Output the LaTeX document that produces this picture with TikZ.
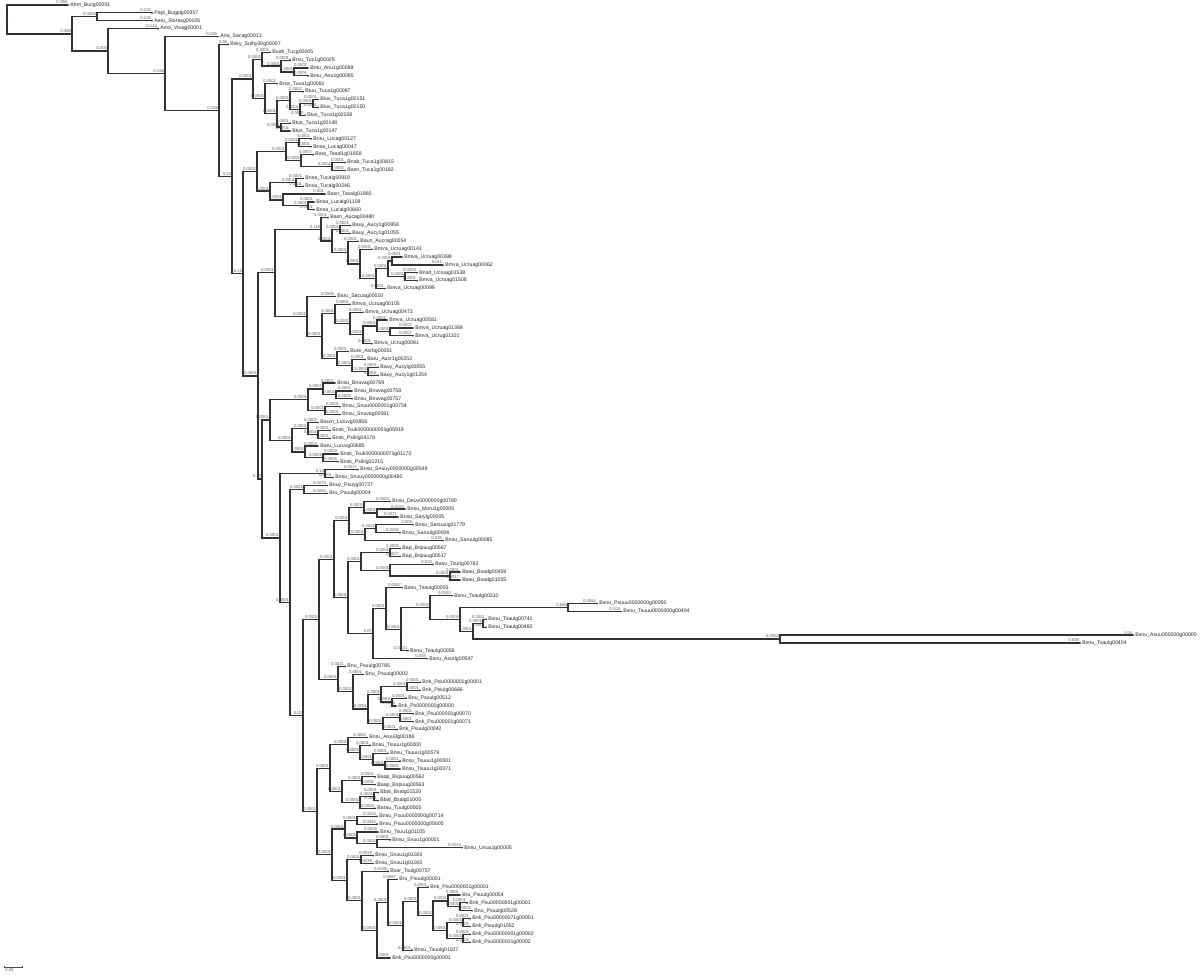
\documentclass[tikz,border=0pt]{standalone}
\usepackage{fontspec}
\setmainfont{Liberation Sans}
\usetikzlibrary{calc}

\tikzset{
  branch/.style={draw=black!80, line width=0.6pt},
  leaflab/.style={anchor=west, inner sep=0pt, font=\fontsize{2.6}{3}\selectfont, text=black!85},
  vallab/.style={anchor=south east, inner sep=0.3pt, font=\fontsize{2.1}{2.4}\selectfont, text=black!65},
  tipdot/.style={circle, fill=blue!70!black, inner sep=0pt, minimum size=0.9pt},
  nodedot/.style={circle, fill=red!75!black, inner sep=0pt, minimum size=0.9pt},
}

% leaf: name, row, tip x, branch value, label
\newcommand{\tleaf}[5]{%
  \coordinate (#1) at (#3,{5+(#2-1)*7.876});
  \node[tipdot] (#1d) at (#1) {};
  \node[leaflab] (#1t) at ([xshift=1pt]#1) {#5};
  \node[vallab] (#1v) at (#1) {#4};
}
% clade: name, x, upper child, lower child, branch value
\newcommand{\clade}[5]{%
  \path let \p1=($(#3)!0.5!(#4)$) in coordinate (#1) at ({#2*0.5pt},\y1);
  \draw[branch] (#3) -| (#1) |- (#4);
  \node[nodedot] (#1d) at ([yshift=-1.2pt]#1) {};
  \node[vallab] (#1v) at (#1) {#5};
}

\begin{document}
\begin{tikzpicture}[x=0.5pt, y=-0.5pt]
\useasboundingbox (0,0) rectangle (1200,976);

% Leaves
\tleaf{l1}{1}{68}{0.388}{Ahm\_Bucg00001}
\tleaf{l2}{2}{152}{0.132}{Papl\_Bugplg00357}
\tleaf{l3}{3}{152}{0.136}{Aeru\_Sloraxg00105}
\tleaf{l4}{4}{158}{0.144}{Amo\_Vtuqg00001}
\tleaf{l5}{5}{218}{0.156}{Ana\_Sacag00013}
\tleaf{l6}{6}{228}{0.98}{Bsky\_Sulhy00g00007}
\tleaf{l7}{7}{270}{0.0001}{Buah\_Tucg00005}
\tleaf{l8}{8}{290}{0.0001}{Brsu\_Tuc1g00025}
\tleaf{l9}{9}{308}{0.0002}{Bntu\_Anu1g00088}
\tleaf{l10}{10}{308}{0.0001}{Bnru\_Anu1g00095}
\tleaf{l11}{11}{277}{0.0001}{Brsa\_Tuca1g00081}
\tleaf{l12}{12}{303}{0.0002}{Btuu\_Tuca1g00087}
\tleaf{l13}{13}{318}{0.0001}{Btus\_Tuca1g00151}
\tleaf{l14}{14}{318}{0.0001}{Btus\_Tuca1g00150}
\tleaf{l15}{15}{305}{0.0001}{Btus\_Tuca1g00208}
\tleaf{l16}{16}{290}{0.0001}{Btus\_Tuca1g00148}
\tleaf{l17}{17}{290}{0.0001}{Btus\_Tuca1g00147}
\tleaf{l18}{18}{311}{0.0001}{Bnru\_Lucag00127}
\tleaf{l19}{19}{311}{0.0001}{Bnsa\_Lucag00047}
\tleaf{l20}{20}{313}{0.0007}{Bara\_Tasal1g01958}
\tleaf{l21}{21}{345}{0.0001}{Bnab\_Tuca1g00815}
\tleaf{l22}{22}{345}{0.0002}{Basn\_Tuca1g00182}
\tleaf{l23}{23}{303}{0.0001}{Bnsa\_Tucalg00918}
\tleaf{l24}{24}{303}{0.0001}{Bnsa\_Tucalg00246}
\tleaf{l25}{25}{325}{0.001}{Basn\_Tasalg01960}
\tleaf{l26}{26}{314}{0.0001}{Bnsa\_Lucalg01109}
\tleaf{l27}{27}{314}{0.0001}{Bnsa\_Lucalg00660}
\tleaf{l28}{28}{328}{0.0001}{Basn\_Aucag00480}
\tleaf{l29}{29}{350}{0.0001}{Bauy\_Aucy1g00958}
\tleaf{l30}{30}{350}{0.0001}{Bauy\_Aucy1g01055}
\tleaf{l31}{31}{358}{0.0001}{Baun\_Aucrag00054}
\tleaf{l32}{32}{372}{0.0001}{Bmva\_Ucruag00143}
\tleaf{l33}{33}{402}{0.0001}{Bmva\_Ucruag00398}
\tleaf{l34}{34}{443}{0.011}{Bmva\_Ucruag00062}
\tleaf{l35}{35}{417}{0.0003}{Bnsd\_Ucruag01538}
\tleaf{l36}{36}{417}{0.0001}{Bmva\_Ucruag01508}
\tleaf{l37}{37}{385}{0.0001}{Bmva\_Ucruag00099}
\tleaf{l38}{38}{335}{0.0006}{Baru\_Sacuag00010}
\tleaf{l39}{39}{350}{0.0001}{Bmva\_Ucruag00105}
\tleaf{l40}{40}{363}{0.0001}{Bmva\_Ucruag00473}
\tleaf{l41}{41}{387}{0.0001}{Bmva\_Ucruag00581}
\tleaf{l42}{42}{413}{0.0001}{Bmva\_Ucruag01369}
\tleaf{l43}{43}{413}{0.0007}{Bmva\_Ucrug01101}
\tleaf{l44}{44}{372}{0.0001}{Bmva\_Ucrug00081}
\tleaf{l45}{45}{348}{0.0001}{Bure\_Asrbg00051}
\tleaf{l46}{46}{365}{0.0001}{Baru\_Aucr1g00252}
\tleaf{l47}{47}{378}{0.0001}{Bauy\_Aucylg00055}
\tleaf{l48}{48}{378}{0.0001}{Bauy\_Aucy1g01254}
\tleaf{l49}{49}{335}{0.0001}{Bnsu\_Bnuvag00769}
\tleaf{l50}{50}{352}{0.0001}{Bnsu\_Bnuvag00758}
\tleaf{l51}{51}{352}{0.0005}{Bnsu\_Bnuvag00757}
\tleaf{l52}{52}{340}{0.0001}{Bnsu\_Snuu0000001g00754}
\tleaf{l53}{53}{340}{0.0001}{Bnsu\_Snuvag00581}
\tleaf{l54}{54}{318}{0.0002}{Baum\_Luruvg00858}
\tleaf{l55}{55}{330}{0.0001}{Bnsk\_Tsuk0000000001g05919}
\tleaf{l56}{56}{330}{0.0001}{Bnsk\_Psiklg04178}
\tleaf{l57}{57}{318}{0.0003}{Baru\_Luruvg00685}
\tleaf{l58}{58}{338}{0.0003}{Bnsk\_Tsuk0000000071g01170}
\tleaf{l59}{59}{338}{0.0005}{Bnsk\_Psiklg01215}
\tleaf{l60}{60}{358}{0.0027}{Bnsu\_Snuuy0000000g00549}
\tleaf{l61}{61}{333}{0.0001}{Bnsu\_Snuuy0000000g00480}
\tleaf{l62}{62}{327}{0.0075}{Bnuy\_Psuyg00727}
\tleaf{l63}{63}{327}{0.0084}{Bru\_Psuulg00004}
\tleaf{l64}{64}{390}{0.0083}{Bnsu\_Deuv0000000g00780}
\tleaf{l65}{65}{405}{0.0154}{Bnsu\_Moru1g00005}
\tleaf{l66}{66}{398}{0.0071}{Bnsu\_Sarylg00005}
\tleaf{l67}{67}{413}{0.008}{Bnsu\_Sarsuulg01779}
\tleaf{l68}{68}{400}{0.0156}{Bnsu\_Saruulg00006}
\tleaf{l69}{69}{443}{0.035}{Bnsu\_Saruulg00085}
\tleaf{l70}{70}{400}{0.0001}{Bap\_Bspuug00567}
\tleaf{l71}{71}{400}{0.0027}{Bap\_Bspuug00517}
\tleaf{l72}{72}{433}{0.024}{Basu\_Tsurlg00782}
\tleaf{l73}{73}{460}{0.0001}{Basu\_Bsadg00459}
\tleaf{l74}{74}{460}{0.0017}{Basu\_Bsadg01055}
\tleaf{l75}{75}{402}{0.0067}{Bseu\_Tsaulg00055}
\tleaf{l76}{76}{452}{0.0163}{Bsnu\_Tsaulg00310}
\tleaf{l77}{77}{597}{0.0064}{Bsnu\_Psuuu0000000g00050}
\tleaf{l78}{78}{621}{0.104}{Bsnu\_Tsuuu0000000g00404}
\tleaf{l79}{79}{486}{0.0001}{Bsnu\_Tsaulg00741}
\tleaf{l80}{80}{486}{0.0001}{Bsnu\_Tsaulg00482}
\tleaf{l81}{81}{1133}{1.04}{Bsnu\_Asuu000000g00000}
\tleaf{l82}{82}{1080}{0.838}{Bsnu\_Tsaulg00404}
\tleaf{l83}{83}{408}{0.0024}{Bsnu\_Tsaulg00058}
\tleaf{l84}{84}{427}{0.004}{Bsnu\_Asurlg00547}
\tleaf{l85}{85}{345}{0.0021}{Bnu\_Psuulg00785}
\tleaf{l86}{86}{363}{0.0001}{Bnu\_Psuulg00002}
\tleaf{l87}{87}{420}{0.0001}{Bnk\_Psiu0000001g00001}
\tleaf{l88}{88}{420}{0.0001}{Bnk\_Psiulg00666}
\tleaf{l89}{89}{406}{0.0001}{Bnu\_Psuulg00512}
\tleaf{l90}{90}{396}{0.0005}{Bnk\_Ps0000000g00000}
\tleaf{l91}{91}{413}{0.0001}{Bnk\_Psu000001g00070}
\tleaf{l92}{92}{413}{0.0001}{Bnk\_Psu000001g00071}
\tleaf{l93}{93}{397}{0.0021}{Bnk\_Psuulg00042}
\tleaf{l94}{94}{367}{0.0083}{Bnru\_Aruu0g00186}
\tleaf{l95}{95}{370}{0.0001}{Bnsu\_Tsuuu1g00000}
\tleaf{l96}{96}{388}{0.0001}{Bnsu\_Tsuuu1g00579}
\tleaf{l97}{97}{400}{0.0001}{Bnsu\_Tsuuu1g00001}
\tleaf{l98}{98}{400}{0.0001}{Bnsu\_Tsuuu1g00071}
\tleaf{l99}{99}{375}{0.0001}{Baap\_Bspuug00562}
\tleaf{l100}{100}{375}{0.0001}{Baap\_Bspuug00563}
\tleaf{l101}{101}{378}{0.0001}{Bbal\_Bsalg01520}
\tleaf{l102}{102}{378}{0.0001}{Bbal\_Bsalg01005}
\tleaf{l103}{103}{375}{0.0055}{Barau\_Tuulg00505}
\tleaf{l104}{104}{377}{0.0034}{Bnsu\_Psuu0000000g00714}
\tleaf{l105}{105}{377}{0.0042}{Bnsu\_Psuu0000000g00005}
\tleaf{l106}{106}{378}{0.0028}{Bnru\_Tsuu1g01105}
\tleaf{l107}{107}{390}{0.0001}{Bnsu\_Snuu1g00001}
\tleaf{l108}{108}{462}{0.0244}{Bnsu\_Unuu1g00005}
\tleaf{l109}{109}{373}{0.0029}{Bnsu\_Snuu1g01020}
\tleaf{l110}{110}{373}{0.0039}{Bnsu\_Snuu1g01000}
\tleaf{l111}{111}{388}{0.0186}{Bsar\_Tsulg00757}
\tleaf{l112}{112}{397}{0.0087}{Bru\_Psuulg00001}
\tleaf{l113}{113}{428}{0.0001}{Bnk\_Psu0000001g00001}
\tleaf{l114}{114}{460}{0.0001}{Bru\_Psuulg00054}
\tleaf{l115}{115}{467}{0.0001}{Bnk\_Psu00000001g00001}
\tleaf{l116}{116}{472}{0.0001}{Bnu\_Psuulg00528}
\tleaf{l117}{117}{470}{0.0021}{Bnk\_Psu00000071g00001}
\tleaf{l118}{118}{470}{0.0001}{Bnk\_Psuulg01052}
\tleaf{l119}{119}{470}{0.0001}{Bnk\_Psu00000001g00002}
\tleaf{l120}{120}{470}{0.0001}{Bnk\_Psu0000001g00002}
\tleaf{l121}{121}{412}{0.0001}{Bnsu\_Tsuulg01107}
\tleaf{l122}{122}{390}{0.0001}{Bnk\_Psu0000000g00001}

% Upper clades
\clade{B}{97}{l2}{l3}{0.0004}
\clade{Gd}{294}{l9}{l10}{0.0001}
\clade{Gc}{281}{l8}{Gd}{0.0001}
\clade{Ga}{262}{l7}{Gc}{0.0001}
\clade{Gh}{313}{l13}{l14}{0.0001}
\clade{Gg}{300}{Gh}{l15}{0.0001}
\clade{Gf}{290}{l12}{Gg}{0.0001}
\clade{Gi}{281}{l16}{l17}{0.0001}
\clade{Ge}{277}{Gf}{Gi}{0.0001}
\clade{Gb}{265}{l11}{Ge}{0.0001}
\clade{G}{253}{Ga}{Gb}{0.0001}
\clade{Iaa}{299}{l18}{l19}{0.0001}
\clade{Iac}{332}{l21}{l22}{0.0001}
\clade{Iab}{301}{l20}{Iac}{0.0001}
\clade{Ia}{286}{Iaa}{Iab}{0.0001}
\clade{Iba}{296}{l23}{l24}{0.0001}
\clade{Ibc}{308}{l26}{l27}{0.0001}
\clade{Ibb}{283}{l25}{Ibc}{0.0001}
\clade{Ib}{270}{Iba}{Ibb}{0.0001}
\clade{I}{257}{Ia}{Ib}{0.0001}

% Middle clades
\clade{ua}{340}{l29}{l30}{0.0001}
\clade{ub}{392}{l33}{l34}{0.0001}
\clade{uc}{405}{l35}{l36}{0.0001}
\clade{ud}{388}{ub}{uc}{0.0001}
\clade{ue}{376}{ud}{l37}{0.0001}
\clade{uf}{360}{l32}{ue}{0.0001}
\clade{ug}{348}{l31}{uf}{0.0001}
\clade{uh}{332}{ua}{ug}{0.0001}
\clade{La}{321}{l28}{uh}{0.118}
\clade{va}{390}{l42}{l43}{0.0001}
\clade{vb}{377}{l41}{va}{0.0001}
\clade{vc}{363}{vb}{l44}{0.0001}
\clade{vd}{350}{l40}{vc}{0.0001}
\clade{ve}{335}{l39}{vd}{0.0001}
\clade{vf}{368}{l47}{l48}{0.0001}
\clade{vg}{352}{l46}{vf}{0.0001}
\clade{vh}{337}{l45}{vg}{0.0001}
\clade{vi}{322}{ve}{vh}{0.0001}
\clade{Lb}{307}{l38}{vi}{0.0001}
\clade{L}{275}{La}{Lb}{0.0001}
\clade{wa}{336}{l50}{l51}{0.0001}
\clade{wb}{323}{l49}{wa}{0.0001}
\clade{wc}{325}{l52}{l53}{0.0001}
\clade{Na}{308}{wb}{wc}{0.0001}
\clade{xa}{318}{l55}{l56}{0.0001}
\clade{xb}{308}{l54}{xa}{0.0001}
\clade{xc}{323}{l58}{l59}{0.0001}
\clade{xd}{305}{l57}{xc}{0.0001}
\clade{Nb}{292}{xb}{xd}{0.0001}
\clade{N}{270}{Na}{Nb}{0.0001}

% Lower clades
\clade{ya}{325}{l60}{l61}{0.13}
\clade{yb}{304}{l62}{l63}{0.0001}
\clade{yc}{377}{l65}{l66}{0.0001}
\clade{yd}{364}{l64}{yc}{0.0001}
\clade{ye}{376}{l67}{l68}{0.0001}
\clade{yf}{365}{ye}{l69}{0.0001}
\clade{yg}{349}{yd}{yf}{0.0001}
\clade{ta}{390}{l70}{l71}{0.0001}
\clade{tb}{450}{l73}{l74}{0.0001}
\clade{tc}{390}{l72}{tb}{0.0001}
\clade{td}{361}{ta}{tc}{0.0001}
\clade{za}{568}{l77}{l78}{0.066}
\clade{zb}{483}{l79}{l80}{0.0001}
\clade{zc}{780}{l81}{l82}{0.0004}
\clade{zd}{473}{zb}{zc}{0.0001}
\clade{ze}{460}{za}{zd}{0.0002}
\clade{zf}{430}{l76}{ze}{0.0002}
\clade{zg}{401}{zf}{l83}{0.0001}
\clade{zh}{386}{l75}{zg}{0.0001}
\clade{zi}{373}{zh}{l84}{0.07}
\clade{zj}{348}{td}{zi}{0.0001}
\clade{zk}{334}{yg}{zj}{0.0001}
\clade{pa}{407}{l87}{l88}{0.0001}
\clade{pb}{392}{l89}{l90}{0.0001}
\clade{pc}{381}{pa}{pb}{0.0001}
\clade{pd}{400}{l91}{l92}{0.0001}
\clade{pe}{383}{pd}{l93}{0.0001}
\clade{pf}{368}{pc}{pe}{0.0001}
\clade{pg}{353}{l86}{pf}{0.0001}
\clade{ph}{338}{l85}{pg}{0.0001}
\clade{yh}{319}{zk}{ph}{0.0001}
\clade{qa}{385}{l97}{l98}{0.0001}
\clade{qb}{373}{l96}{qa}{0.0001}
\clade{qc}{360}{l95}{qb}{0.0001}
\clade{qd}{348}{l94}{qc}{0.0001}
\clade{qe}{362}{l99}{l100}{0.0001}
\clade{qf}{374}{l101}{l102}{0.0001}
\clade{qg}{360}{qf}{l103}{0.0001}
\clade{qh}{342}{qe}{qg}{0.0001}
\clade{qi}{330}{qd}{qh}{0.0001}
\clade{ra}{357}{l104}{l105}{0.0001}
\clade{rb}{377}{l107}{l108}{0.0001}
\clade{rc}{357}{l106}{rb}{0.0001}
\clade{rd}{345}{ra}{rc}{0.0001}
\clade{sa}{361}{l109}{l110}{0.0001}
\clade{sb}{460}{l115}{l116}{0.0001}
\clade{sc}{448}{l114}{sb}{0.0001}
\clade{sd}{463}{l117}{l118}{0.0001}
\clade{se}{463}{l119}{l120}{0.0001}
\clade{sf}{447}{sd}{se}{0.0001}
\clade{sg}{433}{sc}{sf}{0.0001}
\clade{sh}{418}{l113}{sg}{0.0001}
\clade{si}{403}{sh}{l121}{0.0001}
\clade{sj}{388}{l112}{si}{0.0001}
\clade{sk}{377}{sj}{l122}{0.0001}
\clade{sl}{362}{l111}{sk}{0.0001}
\clade{sm}{347}{sa}{sl}{0.0001}
\clade{sn}{332}{rd}{sm}{0.0001}
\clade{so}{317}{qi}{sn}{0.0001}
\clade{yi}{303}{yh}{so}{0.02}
\clade{yj}{290}{yb}{yi}{0.0001}
\clade{Q}{280}{ya}{yj}{0.0001}

% Backbone
\clade{Kb}{262}{N}{Q}{0.13}
\clade{K}{258}{L}{Kb}{0.0001}
\clade{H}{243}{I}{K}{0.13}
\clade{F}{232}{G}{H}{0.13}
\clade{E}{219}{l6}{F}{0.156}
\clade{D}{165}{l5}{E}{0.156}
\clade{C}{108}{l4}{D}{0.303}
\clade{A}{72}{B}{C}{0.388}
\clade{root}{7}{l1}{A}{}

% Scale bar
\coordinate (sbl) at (4,967);
\coordinate (sbr) at (22,967);
\draw[black!70, line width=0.3pt] (sbl) -- (sbr);
\draw[black!70, line width=0.3pt] ([yshift=0.6pt]sbl) -- ([yshift=-0.6pt]sbl);
\draw[black!70, line width=0.3pt] ([yshift=0.6pt]sbr) -- ([yshift=-0.6pt]sbr);
\node[anchor=north west, inner sep=0.5pt, font=\fontsize{2.1}{2.4}\selectfont, text=black!65] (sbt) at (sbl) {0.05};

\end{tikzpicture}
\end{document}
